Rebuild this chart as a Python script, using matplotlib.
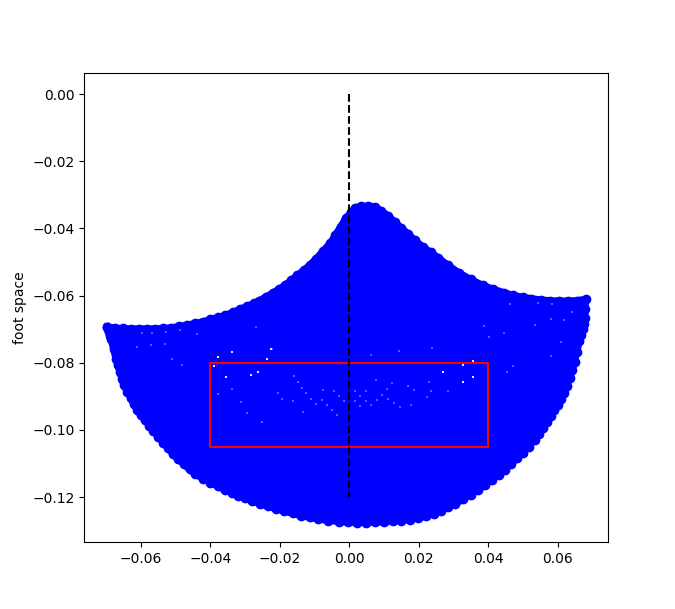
import matplotlib
matplotlib.use("Agg")
import matplotlib.pyplot as plt

# Outline of the reachable foot region
top_x = [-.0697,-.0675,-.0652,-.0629,-.0606,-.0583,-.0560,-.0537,-.0514,-.0491,-.0468,-.0445,-.0422,-.0400,
         -.0378,-.0357,-.0336,-.0315,-.0295,-.0275,-.0261,-.0240,-.0220,-.0202,-.0185,-.0167,-.0150,-.0130,
         -.01125,-.0095,-.0075,-.0055,-.0040,-.0025,-.0010,.0006,.0017,.0035,.0055,.0075,.0092,.0112,.0131,
         .0150,.0170,.0189,.0212,.0235,.0257,.0285,.0316,.0350,.0384,.0415,.0445,.0472,.0500,.0525,.0551,
         .0578,.0604,.0629,.0655,.0681]
top_y = [-.0693,-.0697,-.0698,-.0699,-.0699,-.0699,-.0699,-.0698,-.0696,-.0692,-.0688,-.0683,-.0678,-.0671,
         -.0665,-.0659,-.0650,-.0641,-.0632,-.0623,-.0616,-.0604,-.0592,-.0580,-.0569,-.0554,-.0540,-.0524,
         -.0508,-.0490,-.0467,-.0444,-.0420,-.0395,-.0370,-.0351,-.0338,-.0334,-.0334,-.0335,-.0348,-.0362,-.0381,
         -.0398,-.0417,-.0435,-.0455,-.0471,-.0488,-.0510,-.0532,-.0552,-.0569,-.0581,-.0591,-.0599,-.0605,-.0609,-.0613,
         -.0615,-.0616,-.0616,-.0615,-.0611]
bottom_x = [.0680,.0679,.0676,.0672,.0668,.0663,.0656,.0649,.0643,.0636,.0628,.0619,.0610,.0600,.0590,.0580,
            .0569,.0558,.0546,.0534,.0517,.0500,.0483,.0466,.0448,.0430,.0411,.0392,.0371,.0350,.0328,.0306,
            .0285,.0264,.0243,.0222,.0198,.0175,.0150,.0125,.0100,.0075,.0049,.0023,-.0003,-.0030,-.0060,-.0089,
            -.0114,-.0138,-.0163,-.0187,-.0211,-.0235,-.0258,-.0281,-.0300,-.0320,-.0339,-.0358,-.0379,-.0400,
            -.0422,-.0443,-.0460,-.0476,-.0492,-.0508,-.0522,-.0536,-.0550,-.0564,-.0576,-.0588,-.0600,-.0611,
            -.0621,-.0630,-.0640,-.0649,-.0655,-.0661,-.0667,-.0672,-.0679,-.0686,-.0689,-.0692,-.0695]
bottom_y = [-.0640,-.0667,-.0684,-.0700,-.0718,-.0736,-.0767,-.0798,-.0822,-.0845,-.0868,-.0890,-.0908,-.0925,-.0942,-.0959,
            -.0977,-.0995,-.1013,-.1030,-.1050,-.1068,-.1085,-.1102,-.1119,-.1134,-.1149,-.1164,-.1179,-.1193,-.1207,-.1220,
            -.1231,-.1241,-.1250,-.1257,-.1263,-.1267,-.1270,-.1272,-.1274,-.1275,-.1276,-.1276,-.1275,-.1273,-.1270,-.1266,
            -.1261,-.1256,-.1249,-.1242,-.1235,-.1228,-.1220,-.1212,-.1204,-.1196,-.1187,-.1179,-.1168,-.1157,
            -.1145,-.1132,-.1118,-.1103,-.1088,-.1072,-.1055,-.1038,-.1021,-.1004,-.0988,-.0972,-.0957,-.0941,
            -.0923,-.0904,-.0886,-.0867,-.0848,-.0828,-.0808,-.0789,-.0760,-.0730,-.0720,-.0710,-.0700]

# Brightest uncovered gaps between points
bright_x = [-.0337,-.0391,-.0356,-.0284,-.0264,.0327,.0356,.0327,.0356,.0269,-.0224,-.0236,-.0377]
bright_y = [-.0769,-.0810,-.0842,-.0838,-.0829,-.0808,-.0796,-.0856,-.0844,-.0829,-.0760,-.0790,-.0784]

# Fainter gaps
gap_x = [.0236,.0285,
         -.0205,-.0194,-.0136,-.0147,-.0159,-.0124,-.0110,-.0096,-.0133,-.0162,-.0078,-.0063,-.0049,-.0035,
         -.0075,-.0043,-.0029,-.0014,.0017,.0032,.0017,.0032,.0049,.0049,.0063,.0081,.0095,.0110,.0124,.0078,
         .0112,.0130,.0147,.0179,.0225,.0187,.0170,.0231,-.0312,-.0377,-.0338,-.0295,-.0250,
         -.0596,-.0569,-.0528,-.0487,-.0611,-.0571,-.0531,-.0439,-.0269,-.0223,-.0512,-.0483,-.0377,
         .0387,.0445,.0536,.0464,.0543,.0583,.0642,.0620,.0582,.0611,.0580,.0404,.0239,.0142,.0063,.0455,.0473]
gap_y = [-.0885,-.0885,
         -.0891,-.0909,-.0876,-.0858,-.0841,-.0891,-.0909,-.0924,-.0948,-.0915,-.0912,-.0927,-.0942,-.0957,
         -.0882,-.0885,-.0900,-.0915,-.0885,-.0900,-.0915,-.0930,-.0885,-.0915,-.0927,-.0912,-.0897,-.0879,-.0861,-.0853,
         -.0909,-.0921,-.0933,-.0927,-.0903,-.0882,-.0870,-.0856,-.0918,-.0894,-.0879,-.0951,-.0978,
         -.0711,-.0711,-.0708,-.0703,-.0753,-.0747,-.0745,-.0715,-.0693,-.0759,-.0789,-.0807,-.0782,
         -.0691,-.0713,-.0688,-.0625,-.0622,-.0625,-.0648,-.0673,-.0671,-.0738,-.0779,-.0723,-.0757,-.0765,-.0777,-.0829,-.0810]

# Target box and centre line
box_x = [-0.04, 0.04, 0.04, -0.04, -0.04]
box_y = [-0.08, -0.08, -0.105, -0.105, -0.08]
centre_x = [0, 0]
centre_y = [0, -0.12]

outline_x = top_x + bottom_x + top_x[:1]
outline_y = top_y + bottom_y + top_y[:1]

fig, ax = plt.subplots(figsize=(6.75, 6.09), dpi=100)
ax.fill(outline_x, outline_y, color="blue", lw=0, zorder=1)
ax.plot(outline_x, outline_y, "-", color="blue", lw=5.0, solid_joinstyle="round", zorder=2)
ax.plot(outline_x, outline_y, "o", color="blue", ms=6, zorder=2)
ax.scatter(gap_x, gap_y, s=0.7, marker="s", color="white", alpha=0.35, linewidths=0, zorder=3)
ax.scatter(bright_x, bright_y, s=0.7, marker="s", color="white", alpha=0.9, linewidths=0, zorder=3)
ax.plot(box_x, box_y, "r-", zorder=4)
ax.plot(centre_x, centre_y, "k--", zorder=5)
ax.set_xlim(-0.0763, 0.0744)
ax.set_ylim(-0.1334, 0.00625)
ax.set_ylabel("foot space")
fig.savefig("out.png", dpi=100)
